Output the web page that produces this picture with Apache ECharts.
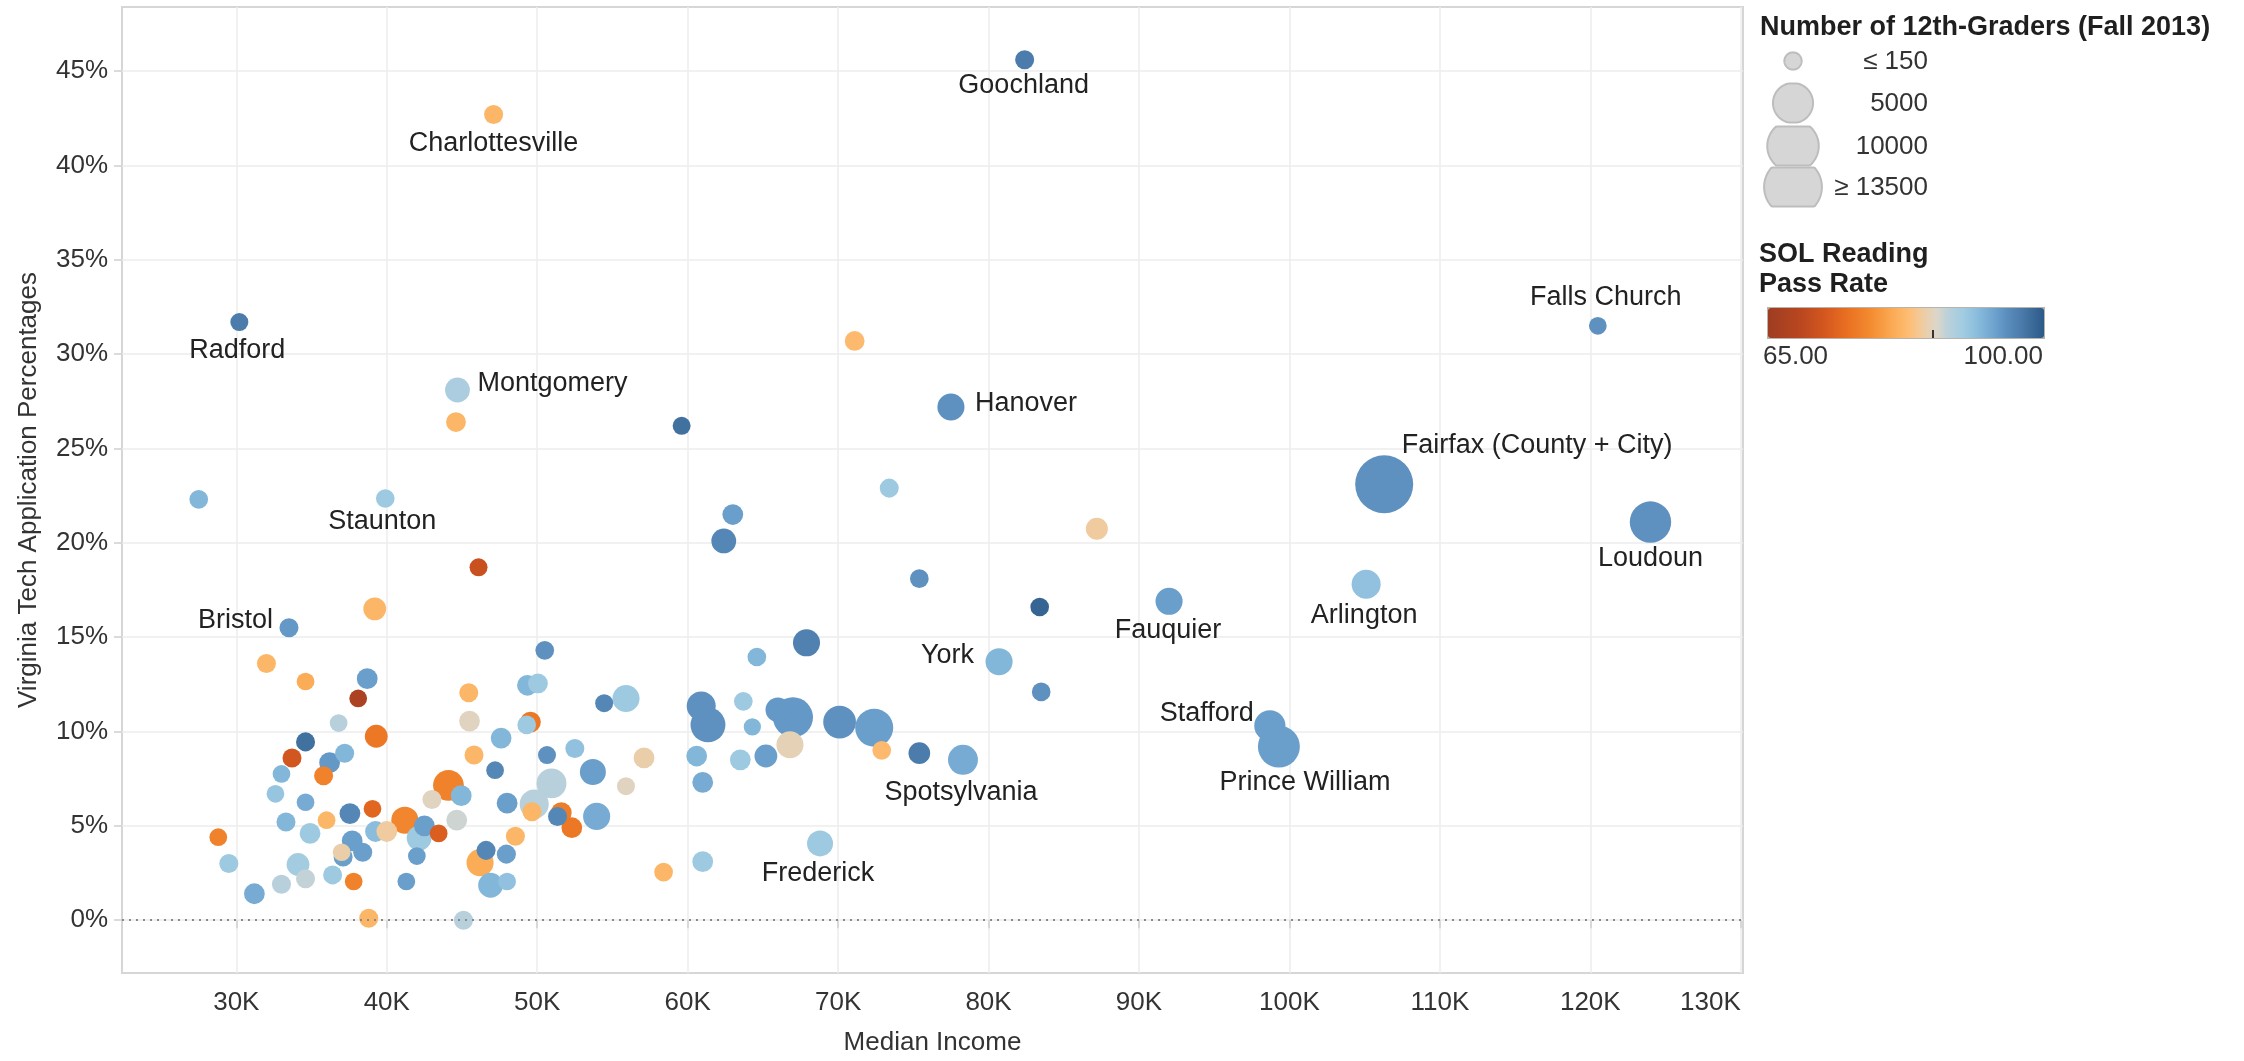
<!DOCTYPE html>
<html><head><meta charset="utf-8">
<script src="https://cdn.jsdelivr.net/npm/echarts@6/dist/echarts.min.js"></script>
<style>html,body{margin:0;padding:0;background:#fff}#c{width:2244px;height:1061px}</style>
</head><body><div id="c"></div>
<script>
// ---------------- DATA ----------------
const names = ['Goochland','Charlottesville','Radford','Montgomery','','','','Staunton','','Hanover',
'','','','','Falls Church','Fairfax (County + City)','Loudoun','Arlington','','',
'Fauquier','York','','','','','Spotsylvania','Stafford','Prince William','',
'','','','','','','','','','',
'','','','','','','','','','',
'Frederick','','','','','','','','','',
'','','','','','','','','','',
'','','','','','','Bristol','','','',
'','','','','','','','','','',
'','','','','','','','','','',
'','','','','','','','','','',
'','','','','','','','','','',
'','','','',''];
const income = [82400,47100,30200,44700,44600,59600,27500,39900,71100,77500,
73400,63000,62400,87200,120500,106300,124000,105100,75400,83400,
92000,80700,83500,72400,72900,75400,78300,98700,99300,67900,
64600,50500,49350,50050,54450,55900,49550,49300,60900,61350,
63700,64300,66000,67000,70100,66800,60600,63500,65200,61000,
68800,61000,58400,57100,55900,50650,52500,53700,50950,49800,
49650,51600,51350,52300,53950,48550,48000,46600,47950,46200,
46900,48000,41300,45100,46100,39200,33500,32000,34600,38700,
38100,36800,39300,34600,33700,36200,37200,33000,35800,32600,
34600,37550,39050,36000,33300,34900,28800,37700,38400,37000,
37100,39250,40000,41200,42500,42150,43450,42000,44100,44950,
43000,44650,45450,45500,45800,47600,47200,29500,31200,33000,
34100,34600,36400,37800,38800];
const appPct = [45.6,42.7,31.7,28.1,26.4,26.2,22.3,22.35,30.7,27.2,
22.9,21.5,20.1,20.75,31.5,23.1,21.1,17.8,18.1,16.6,
16.9,13.7,12.1,10.2,9.0,8.85,8.5,10.3,9.2,14.7,
13.95,14.3,12.45,12.55,11.5,11.75,10.5,10.35,11.35,10.35,
11.6,10.25,11.15,10.75,10.5,9.3,8.7,8.5,8.7,7.3,
4.07,3.1,2.55,8.6,7.1,8.75,9.1,7.85,7.25,6.15,
5.75,5.7,5.5,4.9,5.5,4.45,6.2,3.7,3.5,3.05,
1.85,2.05,2.05,0.0,18.7,16.5,15.5,13.6,12.65,12.8,
11.75,10.45,9.75,9.45,8.6,8.35,8.85,7.75,7.65,6.7,
6.25,5.65,5.9,5.3,5.2,4.6,4.4,4.2,3.6,3.6,
3.35,4.7,4.7,5.3,5.0,4.35,4.6,3.4,7.15,6.6,
6.4,5.3,12.05,10.55,8.75,9.65,7.95,3.0,1.4,1.9,
2.95,2.2,2.4,2.05,0.1];
const seniors = [280,280,200,1000,350,200,250,250,350,1400,
280,450,1000,600,180,13600,5500,1800,250,250,
1400,1400,250,4300,250,550,2000,2300,5700,1400,
250,250,450,350,200,1400,450,250,1800,3300,
250,150,1000,5000,2700,1400,450,450,700,450,
1200,450,250,450,200,200,280,1200,2000,1800,
280,450,280,450,1400,280,450,280,280,1400,
1000,180,180,280,200,700,280,280,180,450,
180,180,700,280,280,450,280,180,280,180,
180,450,180,180,280,450,180,450,280,180,
280,450,450,1400,450,1000,180,180,2200,450,
280,450,280,450,280,450,180,280,450,280,
700,280,280,180,280];
const solPass = [97,82,97,89,82,98,92,90,82.5,95,
90,94,96,84.5,95,95,95,91,95,99,
94,92,95,94,82.5,97,93,94,94,96.5,
92,95,92,90,96,90,76,90,95,95,
90,92,94.5,94.5,95,85.5,92,90,94,93,
90,90,82,85,86,95,91,94,88,88,
82,76.5,96,76,93,82,94,96,94,81,
92,91,94,88,71,82,94.5,82,81,94,
67,88,76,98,72,94.5,92,92,77,90.5,
93,96,74,82,92,90,77,94,94,85,
94,91.5,84.5,77.5,94,90,73,94,77,92,
86,87,82,86,82,92,96,90,93,88,
89.5,87.5,90,77,82];

const xTicks = [30000,40000,50000,60000,70000,80000,90000,100000,110000,120000,130000];
const yTicks = [0,5,10,15,20,25,30,35,40,45];
const sizeLegendValues = [150, 5000, 10000, 13500];
const sizeLegendLabels = ['\u2264 150', '5000', '10000', '\u2265 13500'];
const passRange = [65, 100];
const passRangeLabels = ['65.00', '100.00'];

// ---------------- STYLE ----------------
const FONT = 'Liberation Sans, Arial, sans-serif';
const sizeOf = n => 12.5 + 0.39 * Math.sqrt(n);
const colorStops = [
  [65,'#9e3d22'],[69,'#b8461f'],[72,'#d2561f'],[75,'#e96f21'],[78,'#f38b30'],
  [81,'#fbac57'],[83,'#fdbf77'],[84.5,'#efcb9f'],[86.4,'#dcd6ca'],[88,'#b7d0dc'],
  [90,'#9ecae1'],[92,'#83b7da'],[94,'#6a9fcb'],[95,'#5e91c0'],[97,'#4b7cab'],[100,'#2c5a88']
];
function hex2rgb(h){return [1,3,5].map(i=>parseInt(h.substr(i,2),16));}
function colorAt(v){
  for(let i=0;i<colorStops.length-1;i++){
    const [a,ca]=colorStops[i],[b,cb]=colorStops[i+1];
    if(v<=b){const t=(v-a)/(b-a);const A=hex2rgb(ca),B=hex2rgb(cb);
      return 'rgb('+A.map((x,k)=>Math.round(x+(B[k]-x)*t)).join(',')+')';}
  }
  return colorStops[colorStops.length-1][1];
}
const rampColors=[];
for(let v=passRange[0]; v<=passRange[1]+1e-9; v+=0.5) rampColors.push(colorAt(v));

// label anchor offset from the mark centre (px), and text alignment
const labelCfg = {
  'Goochland':{dx:-1,dy:26,align:'center'},
  'Charlottesville':{dx:0,dy:29,align:'center'},
  'Radford':{dx:-2,dy:28,align:'center'},
  'Montgomery':{dx:20,dy:-6,align:'left'},
  'Staunton':{dx:-3,dy:23,align:'center'},
  'Bristol':{dx:-16,dy:-7,align:'right'},
  'Hanover':{dx:24,dy:-3,align:'left'},
  'Falls Church':{dx:8,dy:-28,align:'center'},
  'Fairfax (County + City)':{dx:153,dy:-39,align:'center'},
  'Loudoun':{dx:0,dy:36,align:'center'},
  'Arlington':{dx:-2,dy:31,align:'center'},
  'Fauquier':{dx:-1,dy:29,align:'center'},
  'York':{dx:-25,dy:-6,align:'right'},
  'Stafford':{dx:-16,dy:-12,align:'right'},
  'Prince William':{dx:26,dy:36,align:'center'},
  'Spotsylvania':{dx:-2,dy:33,align:'center'},
  'Frederick':{dx:-2,dy:30,align:'center'}
};

const pts = income.map((x,i)=>({i, x, y:appPct[i], n:seniors[i], p:solPass[i], name:names[i]}));
pts.sort((a,b)=>b.n-a.n);
const seriesData = pts.map(d=>{
  const item={name:d.name, value:[d.x,d.y,d.n,d.p]};
  const c=labelCfg[d.name];
  if(d.name && c){
    const half=sizeOf(d.n)/2;
    item.label={show:true,formatter:'{b}',color:'#222',fontSize:27,fontFamily:FONT,
      position:[half+c.dx, half+c.dy],align:c.align,verticalAlign:'middle'};
  }
  return item;
});

// size legend (circles clipped to their rows, like the reference)
function clippedCircle(cx,cy,r,h){
  const p=[];
  for(let k=0;k<96;k++){
    const t=k/96*Math.PI*2;
    let x=cx+r*Math.cos(t), y=cy+r*Math.sin(t);
    if(y<cy-h){y=cy-h;} if(y>cy+h){y=cy+h;}
    p.push([x,y]);
  }
  return p;
}
const rowY=[61,103,146,187];
const graphics=[
  {type:'text',x:1760,y:28,style:{text:'Number of 12th-Graders (Fall 2013)',font:'bold 27px '+FONT,fill:'#1f1f1f',align:'left',verticalAlign:'middle'}},
  {type:'text',x:1759,y:255,style:{text:'SOL Reading',font:'bold 27px '+FONT,fill:'#1f1f1f',align:'left',verticalAlign:'middle'}},
  {type:'text',x:1759,y:285,style:{text:'Pass Rate',font:'bold 27px '+FONT,fill:'#1f1f1f',align:'left',verticalAlign:'middle'}},
  {type:'text',x:1763,y:357,style:{text:passRangeLabels[0],font:'26px '+FONT,fill:'#333',align:'left',verticalAlign:'middle'}},
  {type:'text',x:2043,y:357,style:{text:passRangeLabels[1],font:'26px '+FONT,fill:'#333',align:'right',verticalAlign:'middle'}},
  {type:'line',shape:{x1:1933,y1:330,x2:1933,y2:338},style:{stroke:'#333',lineWidth:2},z:100}
];
sizeLegendValues.forEach((v,k)=>{
  const r=sizeOf(v)/2;
  graphics.push({type:'polygon',shape:{points:clippedCircle(1793,rowY[k],r,19.5)},style:{fill:'#d6d6d6',stroke:'#bdbdbd',lineWidth:2}});
  graphics.push({type:'text',x:1928,y:rowY[k]+1,style:{text:sizeLegendLabels[k],font:'26px '+FONT,fill:'#333',align:'right',verticalAlign:'middle'}});
});

const chart = echarts.init(document.getElementById('c'));
chart.setOption({
  animation:false,
  backgroundColor:'#fff',
  grid:{left:122,top:7,right:501,bottom:75,show:true,borderColor:'#d6d6d6',borderWidth:2,containLabel:false},
  xAxis:{type:'value',min:22400,max:130150,
    name:'Median Income',nameLocation:'middle',nameGap:57,
    nameTextStyle:{fontSize:26,color:'#333',fontFamily:FONT},
    axisLine:{show:false},
    axisTick:{show:true,length:8,customValues:xTicks,lineStyle:{color:'#cfcfcf',width:1.5}},
    axisLabel:{customValues:xTicks,formatter:v=>(v/1000)+'K',fontSize:26,color:'#333',fontFamily:FONT,margin:17,alignMaxLabel:'right'},
    splitLine:{show:true,lineStyle:{color:'#ececec',width:1.5}}},
  yAxis:{type:'value',min:-2.8,max:48.4,
    name:'Virginia Tech Application Percentages',nameLocation:'middle',nameGap:80,nameRotate:90,
    nameTextStyle:{fontSize:26,color:'#333',fontFamily:FONT},
    axisLine:{show:false},
    axisTick:{show:true,length:8,customValues:yTicks,lineStyle:{color:'#cfcfcf',width:1.5}},
    axisLabel:{customValues:yTicks,formatter:v=>v+'%',fontSize:26,color:'#333',fontFamily:FONT,margin:14},
    splitLine:{show:true,lineStyle:{color:'#ececec',width:1.5}}},
  visualMap:{type:'continuous',min:passRange[0],max:passRange[1],dimension:3,seriesIndex:0,
    orient:'horizontal',left:1767,top:307,itemWidth:30,itemHeight:276,calculable:false,
    padding:0,borderColor:'#b9b4ab',borderWidth:2,hoverLink:false,
    inRange:{color:rampColors}},
  graphic:graphics,
  series:[{type:'scatter',data:seriesData,
    symbolSize:v=>sizeOf(v[2]),
    itemStyle:{opacity:1},
    emphasis:{disabled:true},
    markLine:{silent:true,symbol:['none','none'],label:{show:false},
      lineStyle:{type:[2,5],color:'#8a8a8a',width:2},data:[{yAxis:0}]},
    z:2}]
});
</script></body></html>
